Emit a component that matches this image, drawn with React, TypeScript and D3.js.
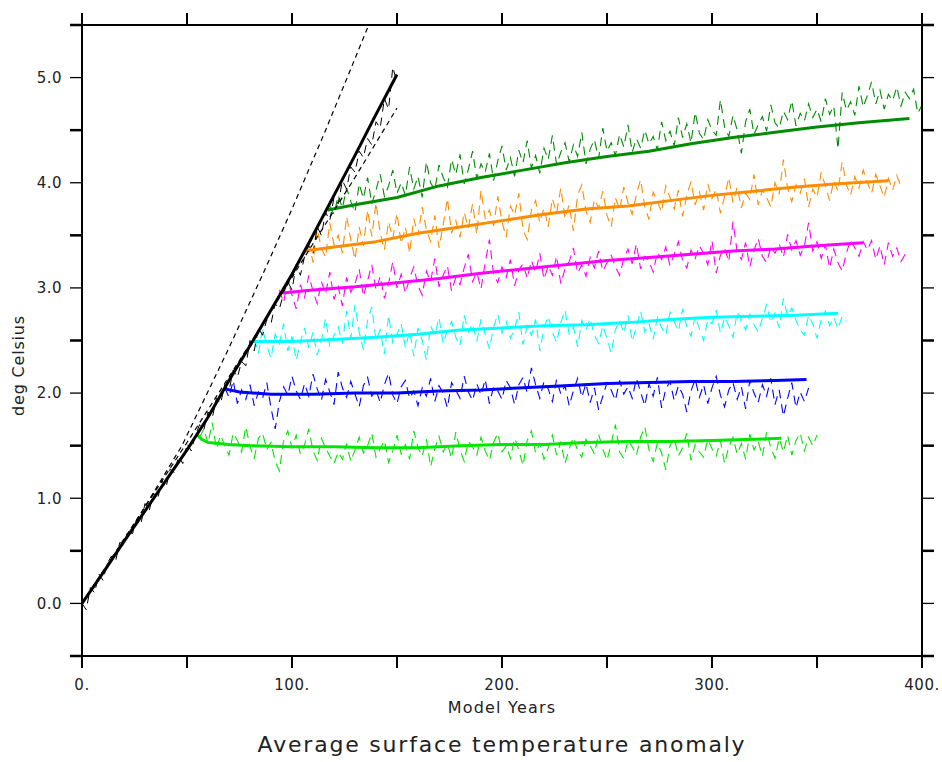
import * as d3 from "d3";

// smoothed curves: [model year, deg C]
const rampMean: [number, number][] = [
  [0, 0], [10, 0.29], [20, 0.59], [30, 0.88], [40, 1.17], [50, 1.46], [60, 1.77], [70, 2.12],
  [80, 2.45], [90, 2.79], [100, 3.13], [110, 3.5], [120, 3.88], [130, 4.26], [140, 4.65], [150, 5.03],
];
const upperDashed: [number, number][] = [
  [0, 0], [20, 0.6], [30, 0.92], [47.6, 1.5], [70, 2.43], [87, 3.17], [100, 3.75], [116, 4.5], [130, 5.18], [136.5, 5.5],
];
const lowerDashed: [number, number][] = [
  [0, 0], [50, 1.53], [90, 2.78], [110, 3.42], [130, 4.05], [150, 4.71],
];
const lgreenMean: [number, number][] = [
  [55, 1.6], [57, 1.56], [60, 1.53], [70, 1.51], [80, 1.5], [100, 1.49], [120, 1.49], [140, 1.48], [160, 1.48], [180, 1.5],
  [200, 1.51], [220, 1.51], [240, 1.53], [260, 1.54], [280, 1.54], [300, 1.55], [320, 1.56], [333, 1.57],
];
const blueMean: [number, number][] = [
  [68, 2.04], [75, 2.01], [90, 1.99], [110, 1.99], [130, 2.0], [150, 2.0], [170, 2.02], [190, 2.03], [210, 2.05],
  [230, 2.07], [250, 2.09], [270, 2.1], [290, 2.11], [310, 2.11], [330, 2.12], [345, 2.13],
];
const cyanMean: [number, number][] = [
  [81, 2.49], [100, 2.49], [120, 2.51], [140, 2.53], [160, 2.56], [180, 2.6], [200, 2.62], [220, 2.64],
  [240, 2.65], [260, 2.67], [280, 2.7], [300, 2.72], [320, 2.73], [340, 2.74], [360, 2.76],
];
const magentaMean: [number, number][] = [
  [94, 2.95], [110, 2.98], [130, 3.01], [150, 3.05], [170, 3.09], [190, 3.14], [210, 3.18], [230, 3.22],
  [250, 3.26], [270, 3.29], [290, 3.32], [310, 3.35], [330, 3.37], [350, 3.4], [372, 3.43],
];
const orangeMean: [number, number][] = [
  [106, 3.35], [120, 3.39], [140, 3.44], [160, 3.52], [180, 3.58], [200, 3.64], [220, 3.7], [240, 3.75],
  [260, 3.78], [280, 3.83], [300, 3.88], [320, 3.92], [340, 3.96], [360, 3.99], [384, 4.02],
];
const greenMean: [number, number][] = [
  [117, 3.74], [130, 3.79], [150, 3.86], [170, 3.97], [190, 4.05], [210, 4.12], [230, 4.19], [250, 4.25],
  [270, 4.3], [290, 4.37], [310, 4.43], [330, 4.48], [350, 4.53], [370, 4.57], [394, 4.61],
];

// yearly values, read every second year
const rampStart = 0;
const rampYearly = [
  0.0, -0.06, 0.15, 0.1, 0.28, 0.22, 0.38, 0.45, 0.4, 0.58, 0.55, 0.7, 0.66, 0.8, 0.75, 0.95, 0.88, 1.05, 0.99, 1.17,
  1.1, 1.28, 1.24, 1.4, 1.33, 1.52, 1.45, 1.6, 1.7, 1.65, 1.82, 1.76, 1.95, 1.9, 2.08, 2.02, 2.22, 2.15, 2.3, 2.26,
  2.5, 2.4, 2.62, 2.55, 2.7, 2.66, 2.85, 2.8, 2.95, 3.06, 2.98, 3.22, 3.12, 3.3, 3.4, 3.33, 3.58, 3.5, 3.72, 3.64,
  3.86, 3.8, 4.02, 3.94, 4.15, 4.1, 4.3, 4.24, 4.42, 4.36, 4.58, 4.52, 4.8, 4.7, 5.1, 4.95,
];
const lgreenStart = 56;
const lgreenYearly = [
  1.58, 1.66, 1.52, 1.72, 1.47, 1.6, 1.5, 1.41, 1.62, 1.55, 1.44, 1.68, 1.49, 1.38, 1.57, 1.62, 1.46, 1.53, 1.35, 1.26, 1.55, 1.64, 1.48,
  1.6, 1.42, 1.51, 1.66, 1.45, 1.36, 1.57, 1.48, 1.4, 1.33, 1.44, 1.37, 1.52, 1.35, 1.46, 1.58, 1.43, 1.5, 1.62, 1.39, 1.47, 1.55, 1.34, 1.45, 1.6,
  1.42, 1.51, 1.37, 1.64, 1.48, 1.4, 1.56, 1.3, 1.47, 1.59, 1.44, 1.52, 1.38, 1.63, 1.46, 1.35, 1.54, 1.49, 1.41, 1.58, 1.45, 1.36, 1.53, 1.62, 1.44,
  1.5, 1.38, 1.57, 1.46, 1.31, 1.55, 1.64, 1.43, 1.52, 1.37, 1.48, 1.6, 1.41, 1.54, 1.33, 1.47, 1.58, 1.45, 1.39, 1.56, 1.5, 1.42, 1.61, 1.47, 1.36,
  1.52, 1.7, 1.44, 1.38, 1.55, 1.49, 1.41, 1.58, 1.68, 1.46, 1.35, 1.53, 1.43, 1.27, 1.5, 1.57, 1.4, 1.48, 1.62, 1.36, 1.51, 1.44, 1.39, 1.56, 1.47,
  1.4, 1.55, 1.33, 1.49, 1.58, 1.42, 1.52, 1.37, 1.61, 1.46, 1.54, 1.4, 1.63, 1.48, 1.38, 1.57, 1.44, 1.6, 1.41, 1.55, 1.62, 1.45, 1.58, 1.5, 1.6,
];
const blueStart = 68;
const blueYearly = [
  2.05, 1.96, 2.12, 1.9, 2.03, 1.94, 2.08, 1.88, 2.01, 1.95, 2.1, 1.86, 1.66, 1.92, 2.06, 1.98, 2.16, 2.02, 1.94, 2.09, 1.97, 2.18,
  2.04, 1.93, 2.13, 2.01, 1.89, 2.2, 2.05, 1.96, 2.11, 1.99, 1.87, 2.07, 2.15, 1.97, 2.03, 1.91, 2.08, 2.19, 1.98, 1.9, 2.06, 2.12, 1.95, 2.02, 1.88,
  2.05, 1.97, 2.14, 1.92, 2.07, 2.0, 1.86, 2.1, 2.03, 1.95, 2.16, 2.01, 1.93, 2.09, 1.98, 2.13, 1.9, 2.06, 2.02, 1.94, 2.12, 2.05, 1.89, 2.08, 2.15,
  2.0, 2.24, 2.08, 1.95, 2.11, 2.04, 1.92, 2.13, 1.99, 2.07, 1.88, 2.02, 2.14, 1.96, 2.09, 1.91, 2.05, 1.84, 1.97, 2.1, 2.03, 1.93, 2.12, 1.99, 2.06,
  1.95, 2.14, 2.01, 1.88, 2.09, 1.97, 2.15, 1.86, 2.04, 2.11, 1.93, 2.07, 1.99, 1.82, 2.02, 2.13, 1.96, 2.08, 1.9, 2.05, 2.16, 1.98, 1.87, 2.03, 2.1,
  1.94, 2.06, 1.85, 2.12, 2.0, 1.91, 2.08, 1.97, 2.14, 1.89, 2.03, 1.78, 1.95, 2.1, 1.86, 2.01, 1.92, 2.05,
];
const cyanStart = 82;
const cyanYearly = [
  2.52, 2.38, 2.61, 2.45, 2.33, 2.56, 2.47, 2.66, 2.4, 2.54, 2.31, 2.49, 2.62, 2.43, 2.58, 2.36, 2.5, 2.71, 2.44, 2.55,
  2.63, 2.47, 2.78, 2.52, 2.84, 2.58, 2.41, 2.69, 2.82, 2.5, 2.6, 2.37, 2.74, 2.48, 2.56, 2.66, 2.43, 2.59, 2.35, 2.62,
  2.5, 2.31, 2.64, 2.55, 2.72, 2.47, 2.6, 2.68, 2.53, 2.45, 2.74, 2.58, 2.66, 2.49, 2.7, 2.56, 2.42, 2.63, 2.75, 2.57,
  2.68, 2.52, 2.61, 2.77, 2.46, 2.64, 2.55, 2.7, 2.4, 2.62, 2.73, 2.58, 2.48, 2.67, 2.79, 2.56, 2.63, 2.44, 2.69, 2.6,
  2.71, 2.55, 2.47, 2.64, 2.52, 2.38, 2.6, 2.69, 2.57, 2.74, 2.49, 2.63, 2.78, 2.58, 2.66, 2.51, 2.72, 2.62, 2.55, 2.77,
  2.68, 2.59, 2.8, 2.63, 2.54, 2.73, 2.61, 2.5, 2.7, 2.66, 2.79, 2.57, 2.72, 2.64, 2.53, 2.77, 2.68, 2.6, 2.75, 2.65,
  2.58, 2.71, 2.84, 2.67, 2.76, 2.62, 2.9, 2.73, 2.81, 2.69, 2.6, 2.55, 2.74, 2.66, 2.52, 2.7, 2.78, 2.64, 2.72, 2.61, 2.73, 2.68,
];
const magentaStart = 94;
const magentaYearly = [
  2.98, 2.86, 3.08, 2.93, 2.8, 3.03, 2.91, 3.12, 2.97, 2.85, 3.06, 2.94, 3.15, 2.89, 3.01, 2.83, 3.1, 2.96, 3.04,
  3.18, 2.92, 3.07, 3.22, 2.98, 3.11, 2.9, 3.04, 3.25, 3.0, 3.13, 2.95, 3.09, 3.2, 3.02, 2.93, 3.16, 3.06, 3.28, 3.01,
  3.12, 3.21, 2.97, 3.1, 3.03, 3.19, 3.32, 3.06, 3.15, 2.99, 3.24, 3.46, 3.13, 3.05, 3.2, 3.1, 3.27, 3.02, 3.17, 3.23,
  3.09, 3.26, 3.15, 3.33, 3.08, 3.21, 3.12, 3.3, 3.04, 3.18, 3.25, 3.38, 3.14, 3.22, 3.11, 3.29, 3.19, 3.35, 3.16, 3.24,
  3.31, 3.2, 3.12, 3.28, 3.37, 3.23, 3.42, 3.18, 3.3, 3.25, 3.15, 3.34, 3.27, 3.39, 3.21, 3.32, 3.44, 3.26, 3.19, 3.36,
  3.28, 3.4, 3.33, 3.22, 3.45, 3.14, 3.31, 3.38, 3.25, 3.63, 3.34, 3.27, 3.43, 3.2, 3.36, 3.47, 3.3, 3.24, 3.39, 3.33,
  3.42, 3.29, 3.51, 3.36, 3.45, 3.31, 3.4, 3.62, 3.35, 3.44, 3.28, 3.41, 3.19, 3.37, 3.24, 3.16, 3.33, 3.46, 3.38, 3.3, 3.44,
  3.36, 3.45, 3.27, 3.4, 3.22, 3.43, 3.3, 3.38, 3.25, 3.32,
];
const orangeStart = 106;
const orangeYearly = [
  3.32, 3.45, 3.24, 3.56, 3.38, 3.29, 3.62, 3.41, 3.5, 3.33, 3.68, 3.46, 3.27, 3.58, 3.4, 3.74, 3.49, 3.81,
  3.52, 3.36, 3.63, 3.47, 3.71, 3.42, 3.58, 3.33, 3.66, 3.5, 3.77, 3.55, 3.44, 3.69, 3.38, 3.6, 3.85, 3.52, 3.64, 3.48,
  3.72, 3.57, 3.8, 3.51, 3.93, 3.66, 3.74, 3.59, 3.87, 3.63, 3.48, 3.78, 3.69, 3.9, 3.55, 3.46, 3.74, 3.83, 3.62, 3.76,
  3.58, 3.85, 3.71, 3.95, 3.66, 3.79, 3.54, 3.88, 3.98, 3.73, 3.62, 3.84, 3.76, 3.92, 3.69, 3.58, 3.86, 3.74, 3.96, 3.81,
  3.7, 3.89, 4.03, 3.77, 3.65, 3.91, 3.82, 3.72, 3.97, 3.86, 3.75, 3.93, 3.68, 3.88, 4.01, 3.79, 3.91, 3.74, 3.99, 3.85,
  3.94, 3.71, 3.87, 4.05, 3.81, 3.96, 3.76, 3.9, 3.84, 4.08, 3.79, 3.93, 3.86, 3.77, 4.0, 3.89, 4.22, 3.95, 3.82, 3.98,
  3.9, 4.04, 3.77, 3.94, 3.86, 4.1, 3.97, 3.83, 4.02, 3.92, 4.2, 3.98, 3.88, 4.06, 3.95, 4.12, 4.0, 3.9, 4.08, 3.97, 3.86, 4.04, 3.93, 4.07, 3.96,
];
const greenStart = 118;
const greenYearly = [
  3.78, 3.7, 3.88, 3.76, 3.95, 3.82, 3.72, 3.99, 3.85, 4.05, 3.8, 3.93, 4.08, 3.87, 3.97, 4.12, 3.9,
  4.0, 3.88, 4.15, 3.94, 4.06, 3.86, 4.2, 4.0, 3.93, 4.17, 4.05, 3.96, 4.22, 4.08, 4.27, 3.99, 4.13, 4.3, 4.04, 4.18,
  4.1, 4.28, 4.02, 4.21, 4.35, 4.12, 4.24, 4.06, 4.31, 4.19, 4.4, 4.14, 4.26, 4.09, 4.33, 4.22, 4.45, 4.17, 4.29, 4.38,
  4.2, 4.36, 4.25, 4.48, 4.18, 4.32, 4.41, 4.23, 4.52, 4.3, 4.38, 4.26, 4.46, 4.34, 4.55, 4.29, 4.42, 4.33, 4.5, 4.37,
  4.44, 4.31, 4.58, 4.4, 4.49, 4.35, 4.62, 4.43, 4.56, 4.38, 4.67, 4.47, 4.41, 4.6, 4.5, 4.45, 4.79, 4.53, 4.44, 4.64,
  4.5, 4.28, 4.58, 4.7, 4.46, 4.55, 4.63, 4.49, 4.74, 4.57, 4.52, 4.68, 4.6, 4.78, 4.54, 4.66, 4.59, 4.75, 4.62, 4.7,
  4.58, 4.8, 4.65, 4.73, 4.32, 4.86, 4.69, 4.77, 4.64, 4.92, 4.72, 4.83, 4.96, 4.75, 4.88, 4.7, 4.84, 4.78, 4.91, 4.73, 4.86, 4.8, 4.89, 4.66, 4.74,
];
const yearStep = 2;

const xTicks = [0, 50, 100, 150, 200, 250, 300, 350, 400];
const xLabels = [0, 100, 200, 300, 400];
const yTicks = [-0.5, 0, 0.5, 1, 1.5, 2, 2.5, 3, 3.5, 4, 4.5, 5, 5.5];
const yLabels = [0, 1, 2, 3, 4, 5];

const W = 942;
const H = 762;
const left = 82, right = 922, top = 25, bottom = 656;
const font = "'DejaVu Sans', sans-serif";

const x = d3.scaleLinear().domain([0, 400]).range([left, right]);
const y = d3.scaleLinear().domain([-0.5, 5.5]).range([bottom, top]);
const line = d3.line<[number, number]>().x((d) => x(d[0])).y((d) => y(d[1]));

const yearly = (start: number, vals: number[]) =>
  vals.map((v, i) => [start + i * yearStep, v] as [number, number]);

const runs = [
  { color: "#00e600", mean: lgreenMean, raw: yearly(lgreenStart, lgreenYearly) },
  { color: "#0000ff", mean: blueMean, raw: yearly(blueStart, blueYearly) },
  { color: "#00ffff", mean: cyanMean, raw: yearly(cyanStart, cyanYearly) },
  { color: "#ff00ff", mean: magentaMean, raw: yearly(magentaStart, magentaYearly) },
  { color: "#ff8c00", mean: orangeMean, raw: yearly(orangeStart, orangeYearly) },
  { color: "#008c00", mean: greenMean, raw: yearly(greenStart, greenYearly) },
];

export default function App() {
  return (
    <svg width={W} height={H} style={{ position: "absolute", left: 0, top: 0, background: "#fff" }}>
      <defs>
        <clipPath id="plot">
          <rect x={left} y={top} width={right - left} height={bottom - top} />
        </clipPath>
      </defs>
      <g clipPath="url(#plot)" fill="none">
        {runs.map((r, i) => (
          <path key={"raw" + i} d={line(r.raw)!} stroke={r.color} strokeWidth={1.1} strokeDasharray="9,6" />
        ))}
        <path d={line(yearly(rampStart, rampYearly))!} stroke="#000" strokeWidth={1} strokeDasharray="8,6" />
        {runs.map((r, i) => (
          <path key={"mean" + i} d={line(r.mean)!} stroke={r.color} strokeWidth={3} strokeLinejoin="round" />
        ))}
        <path d={line(upperDashed)!} stroke="#000" strokeWidth={1.2} strokeDasharray="5,4" />
        <path d={line(lowerDashed)!} stroke="#000" strokeWidth={1.2} strokeDasharray="5,4" />
        <path d={line(rampMean)!} stroke="#000" strokeWidth={3} strokeLinejoin="round" />
      </g>

      {/* frame */}
      <rect x={left} y={top} width={right - left} height={bottom - top} fill="none" stroke="#000" strokeWidth={2} />
      {xTicks.map((t) => (
        <g key={"xt" + t} stroke="#000" strokeWidth={2}>
          <line x1={x(t)} x2={x(t)} y1={bottom} y2={bottom + 12} />
          <line x1={x(t)} x2={x(t)} y1={top} y2={top - 12} />
        </g>
      ))}
      {yTicks.map((t) => {
        const w = Number.isInteger(t) ? 1.3 : 2.5;
        return (
          <g key={"yt" + t} stroke="#000" strokeWidth={w}>
            <line x1={left} x2={left - 12} y1={y(t)} y2={y(t)} />
            <line x1={right} x2={right + 12} y1={y(t)} y2={y(t)} />
          </g>
        );
      })}
      {xLabels.map((t) => (
        <text key={"xl" + t} x={x(t)} y={690} textAnchor="middle" fontFamily={font} fontSize={15} fill="#222" letterSpacing={0.5}>
          {t + "."}
        </text>
      ))}
      {yLabels.map((t) => (
        <text key={"yl" + t} x={62} y={y(t)} dy="0.36em" textAnchor="end" fontFamily={font} fontSize={15} fill="#222" letterSpacing={0.5}>
          {t.toFixed(1)}
        </text>
      ))}
      <text x={(left + right) / 2} y={713} textAnchor="middle" fontFamily={font} fontSize={16} fill="#222" letterSpacing={1.2}>
        Model Years
      </text>
      <text
        transform={`translate(24,${(top + bottom) / 2 + 25}) rotate(-90)`}
        textAnchor="middle"
        fontFamily={font}
        fontSize={16}
        fill="#222"
        letterSpacing={0.8}
      >
        deg Celsius
      </text>
      <text x={(left + right) / 2} y={752} textAnchor="middle" fontFamily={font} fontSize={22} fill="#222" letterSpacing={1.8}>
        Average surface temperature anomaly
      </text>
    </svg>
  );
}
